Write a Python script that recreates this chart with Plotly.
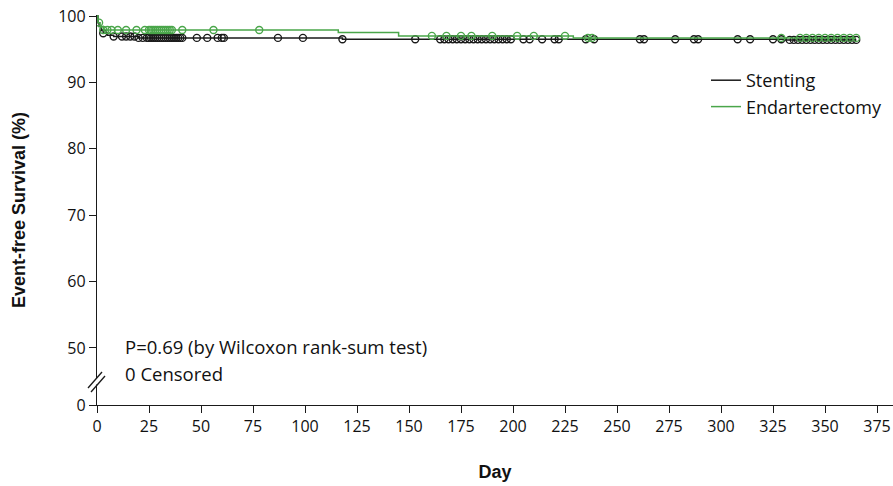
import plotly.graph_objects as go
import numpy as np

# ---- data ----
stent_times = [0, 0.5, 1, 2, 3, 5, 8, 20, 118, 330]
stent_surv = [100, 99.0, 98.4, 97.8, 97.4, 97.1, 96.9, 96.7, 96.5, 96.4]
endart_times = [0, 0.5, 1.5, 3, 116, 145, 229]
endart_surv = [100, 99.0, 98.4, 97.9, 97.5, 97.0, 96.7]
followup_end = 365

stent_marks = [3, 8, 12, 14, 16, 18, 20, 22, 24, 25, 26, 27, 28, 29, 30, 31, 32, 33, 34, 35,
               36, 37, 38, 39, 40, 41, 48, 53, 58, 60, 61, 87, 99, 118, 153, 165, 167, 169,
               171, 173, 175, 177, 179, 181, 183, 185, 187, 189, 191, 193, 195, 197, 199, 205,
               208, 214, 220, 222, 235, 239, 261, 263, 278, 287, 289, 308, 314, 325, 329, 333,
               335, 337, 339, 341, 343, 345, 347, 349, 351, 353, 355, 357, 359, 361, 363, 365]
endart_marks = [1, 3, 5, 7, 10, 14, 19, 23, 25, 26, 27, 28, 29, 30, 31, 32, 33, 34, 35, 36,
                41, 56, 78, 161, 168, 175, 180, 190, 202, 210, 225, 236, 238, 329, 338, 341,
                344, 347, 350, 353, 356, 359, 362, 365]

x_ticks = [0, 25, 50, 75, 100, 125, 150, 175, 200, 225, 250, 275, 300, 325, 350, 375]
y_tick_labels = ["0", "50", "60", "70", "80", "90", "100"]
y_tick_pos = [41.4, 50, 60, 70, 80, 90, 100]   # "0" sits below the axis break

BLACK = "#1a1a1a"
GREEN = "#4aa64a"


def step_value(times, surv, t):
    idx = np.searchsorted(np.array(times), t, side="right") - 1
    return surv[max(idx, 0)]


fig = go.Figure()

for name, times, surv, marks, color in [
    ("Stenting", stent_times, stent_surv, stent_marks, BLACK),
    ("Endarterectomy", endart_times, endart_surv, endart_marks, GREEN),
]:
    fig.add_trace(go.Scatter(
        x=times + [followup_end], y=surv + [surv[-1]],
        mode="lines", line=dict(color=color, width=1.5, shape="hv"),
        name=name, showlegend=True))
    fig.add_trace(go.Scatter(
        x=marks, y=[step_value(times, surv, t) for t in marks],
        mode="markers", marker=dict(symbol="circle-open", size=7, color=color,
                                    line=dict(width=1.4, color=color)),
        showlegend=False, hoverinfo="skip"))

W, H = 893, 486
ml, mr, mt, mb = 97, 0, 15, 81
pw = W - ml - mr
ph = H - mt - mb


def px_x(px):
    return (px - ml) / pw


def px_y(py):
    return (H - mb - py) / ph


shapes = [
    dict(type="rect", xref="paper", yref="paper", x0=px_x(94.5), x1=px_x(99.5),
         y0=px_y(384.5), y1=px_y(378.5), fillcolor="white", line=dict(width=0), layer="above"),
    dict(type="line", xref="paper", yref="paper", x0=px_x(88), y0=px_y(388),
         x1=px_x(102), y1=px_y(372), line=dict(color=BLACK, width=1.3), layer="above"),
    dict(type="line", xref="paper", yref="paper", x0=px_x(91), y0=px_y(392),
         x1=px_x(105), y1=px_y(376), line=dict(color=BLACK, width=1.3), layer="above"),
]

font_main = "Open Sans, Liberation Sans, sans-serif"

fig.update_layout(
    width=W, height=H,
    margin=dict(l=ml, r=mr, t=mt, b=mb),
    paper_bgcolor="white", plot_bgcolor="white",
    font=dict(family=font_main, size=16, color="#111"),
    xaxis=dict(range=[0, pw / 2.08], tickvals=x_ticks, ticks="outside", ticklen=7,
               tickwidth=1.3, tickcolor=BLACK, showline=True, linecolor=BLACK, linewidth=1.3,
               showgrid=False, zeroline=False, tickfont=dict(size=16),
               title=dict(text="<b>Day</b>", font=dict(family="Liberation Sans, Arial", size=18),
                          standoff=29)),
    yaxis=dict(range=[41.4, 100.15], tickvals=y_tick_pos, ticktext=y_tick_labels,
               ticks="outside", ticklen=7, tickwidth=1.3, tickcolor=BLACK, showline=True,
               linecolor=BLACK, linewidth=1.3, showgrid=False, zeroline=False,
               tickfont=dict(size=16),
               title=dict(text="<b>Event-free Survival (%)</b>",
                          font=dict(family="Liberation Sans, Arial", size=18), standoff=27)),
    legend=dict(x=px_x(706), y=px_y(62), xanchor="left", yanchor="top",
                bgcolor="rgba(0,0,0,0)", font=dict(size=18), tracegroupgap=0),
    shapes=shapes,
    annotations=[
        dict(text="P=0.69 (by Wilcoxon rank-sum test)", xref="paper", yref="paper",
             x=px_x(123), y=px_y(346), xanchor="left", yanchor="middle", showarrow=False,
             font=dict(size=18.5)),
        dict(text="0 Censored", xref="paper", yref="paper",
             x=px_x(123), y=px_y(373), xanchor="left", yanchor="middle", showarrow=False,
             font=dict(size=18.5)),
    ],
)

fig.write_html("out.html")
